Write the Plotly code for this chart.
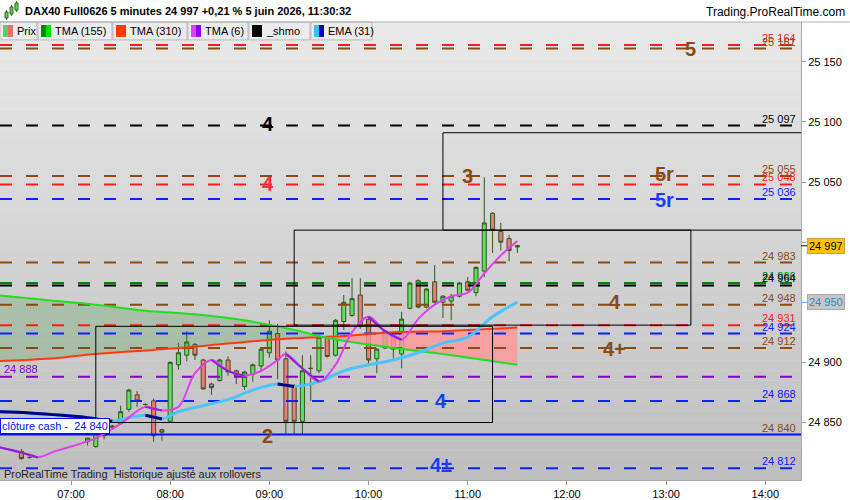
import plotly.graph_objects as go

DAY = "2026-06-05 "
X_LO = DAY + "06:17:03"
X_HI = DAY + "14:21:36"

# 5 minute candles (DAX40 Full0626)
candle_times = ["06:30", "06:35", "07:10", "07:15", "07:20", "07:25", "07:30", "07:35", "07:40", "07:45",
                "07:50", "07:55", "08:00", "08:05", "08:10", "08:15", "08:20", "08:25", "08:30", "08:35",
                "08:40", "08:45", "08:50", "08:55", "09:00", "09:05", "09:10", "09:15", "09:20", "09:25",
                "09:30", "09:35", "09:40", "09:45", "09:50", "09:55", "10:00", "10:05", "10:10", "10:15",
                "10:20", "10:25", "10:30", "10:35", "10:40", "10:45", "10:50", "10:55", "11:00", "11:05",
                "11:10", "11:15", "11:20", "11:25", "11:30"]
opens = [24826, 24821, 24834, 24830, 24839, 24846, 24849, 24861, 24873, 24865,
         24868, 24844, 24851, 24898, 24906, 24915, 24902, 24882, 24885, 24902,
         24893, 24880, 24890, 24897, 24908, 24924, 24903, 24880, 24851, 24895,
         24893, 24921, 24906, 24934, 24939, 24956, 24936, 24903, 24912, 24921,
         24907, 24945, 24968, 24946, 24967, 24950, 24951, 24955, 24967, 24958,
         24976, 25024, 25009, 25003, 24996]
highs = [24828, 24822, 24837, 24842, 24846, 24848, 24864, 24878, 24876, 24866,
         24870, 24845, 24901, 24916, 24926, 24916, 24903, 24883, 24903, 24905,
         24894, 24893, 24899, 24912, 24935, 24932, 24909, 24882, 24906, 24906,
         24922, 24922, 24936, 24956, 24970, 24970, 24937, 24912, 24927, 24922,
         24942, 24967, 24969, 24962, 24981, 24956, 24957, 24967, 24971, 24980,
         25054, 25025, 25016, 25006, 24998]
lows = [24819, 24820, 24831, 24829, 24836, 24844, 24848, 24859, 24863, 24864,
        24834, 24835, 24850, 24894, 24901, 24902, 24877, 24873, 24884, 24889,
        24882, 24877, 24884, 24892, 24904, 24886, 24840, 24840, 24840, 24868,
        24891, 24904, 24905, 24927, 24938, 24928, 24898, 24891, 24911, 24903,
        24895, 24944, 24945, 24945, 24949, 24937, 24935, 24954, 24959, 24955,
        24971, 24991, 24993, 24984, 24991]
closes = [24820, 24821, 24837, 24841, 24844, 24847, 24859, 24877, 24868, 24865,
          24839, 24842, 24900, 24908, 24917, 24906, 24878, 24879, 24902, 24892,
          24889, 24892, 24898, 24911, 24926, 24902, 24851, 24851, 24893, 24895,
          24921, 24905, 24935, 24950, 24953, 24930, 24902, 24911, 24926, 24911,
          24936, 24966, 24946, 24961, 24950, 24955, 24955, 24966, 24960, 24979,
          25016, 25010, 25000, 24993, 24997]

# moving averages
tma_times = ["06:15", "06:45", "07:15", "07:45", "08:15", "08:45", "09:15", "09:30",
             "09:45", "10:15", "10:45", "11:15", "11:30"]
tma155 = [24956, 24952, 24948, 24943, 24940, 24935, 24927, 24922, 24918, 24912, 24907, 24901, 24898]
tma310 = [24901, 24903, 24907, 24910, 24913, 24917, 24920, 24921, 24922, 24925, 24926, 24928, 24929]

ema_times = ["06:15", "06:35", "06:55", "07:10", "07:25", "07:35", "07:45", "07:55", "08:05", "08:20",
             "08:35", "08:50", "09:05", "09:15", "09:30", "09:45", "10:00", "10:15", "10:30", "10:45",
             "11:00", "11:15", "11:30"]
ema31 = [24859, 24858, 24856, 24854, 24851, 24854, 24856, 24853, 24859, 24864,
         24869, 24877, 24882, 24880, 24884, 24893, 24898, 24902, 24908, 24916,
         24921, 24938, 24950]

tma6_times = ["06:15", "06:30", "06:40", "06:50", "07:00", "07:15", "07:30", "07:45", "07:55", "08:05",
              "08:15", "08:25", "08:35", "08:45", "08:55", "09:05", "09:10", "09:20", "09:30", "09:40",
              "09:50", "10:00", "10:10", "10:20", "10:30", "10:40", "10:50", "11:00", "11:10", "11:20",
              "11:30"]
tma6 = [24830, 24825, 24821, 24826, 24830, 24837, 24849, 24863, 24860, 24863,
        24891, 24902, 24893, 24889, 24893, 24902, 24907, 24895, 24884, 24898,
        24925, 24938, 24926, 24919, 24936, 24948, 24955, 24958, 24974, 24989,
        25001]

# horizontal levels
level_values = [25164, 25161, 25097, 25055, 25048, 25036, 24983, 24966, 24964, 24948,
                24931, 24924, 24912, 24888, 24868, 24840, 24812]
level_kinds = ["red", "brown", "black", "brown", "red", "blue", "brown", "green", "black", "brown",
               "red", "blue", "brown", "purple", "blue", "cash", "blue"]

# zone rectangles
box_start = ["07:15", "09:15", "10:45"]
box_end = ["11:15", "13:15", "15:00"]
box_low = [24850, 24931, 25010]
box_high = [24930, 25010, 25091]

# big zone labels
zone_text = ["5", "4", "4", "5r", "5r", "3", "4", "4+", "4", "2", "4\u00b1"]
zone_time = ["13:15", "08:59", "08:59", "12:59", "12:59", "11:00", "12:29", "12:29", "10:44", "08:59", "10:44"]
zone_value = [25161, 25098, 25048, 25057, 25035, 25055, 24950, 24911, 24868, 24839, 24815]
zone_kind = ["brown", "black", "red", "brown", "blue", "brown", "brown", "brown", "blue", "brown", "blue"]

y_ticks = [24850, 24900, 24950, 25000, 25050, 25100, 25150]

COL = {"red": "#ff1a1a", "brown": "#8b4a10", "black": "#000000", "blue": "#1020ff",
       "green": "#008000", "purple": "#8400c8", "cash": "#0010ff"}
ZONE_COL = {"red": "#ff3040", "brown": "#8b4a10", "black": "#000000", "blue": "#1a3cff"}
FONT = "Liberation Sans, Arial, sans-serif"


def fmt(v):
    return f"{v:,}".replace(",", " ")


def ts(lst):
    return [DAY + t for t in lst]


def falling_only(vals):
    out = []
    n = len(vals)
    for j in range(n):
        keep = (j > 0 and vals[j] < vals[j - 1]) or (j < n - 1 and vals[j + 1] < vals[j])
        out.append(vals[j] if keep else None)
    return out


def px_x(p):
    return p / 801.0


def px_y(p):
    return (482.0 - p) / 460.0


fig = go.Figure()

# fill between the two long TMAs (green above, pink once red is on top)
k = tma_times.index("09:30")
fig.add_trace(go.Scatter(x=ts(tma_times[:k + 1]), y=tma310[:k + 1], mode="lines",
                         line=dict(width=0, shape="spline"), hoverinfo="skip"))
fig.add_trace(go.Scatter(x=ts(tma_times[:k + 1]), y=tma155[:k + 1], mode="lines", fill="tonexty",
                         fillcolor="rgba(40,140,40,0.22)", line=dict(width=0, shape="spline"), hoverinfo="skip"))
fig.add_trace(go.Scatter(x=ts(tma_times[k:]), y=tma155[k:], mode="lines",
                         line=dict(width=0, shape="spline"), hoverinfo="skip"))
fig.add_trace(go.Scatter(x=ts(tma_times[k:]), y=tma310[k:], mode="lines", fill="tonexty",
                         fillcolor="rgba(255,150,150,0.8)", line=dict(width=0, shape="spline"), hoverinfo="skip"))

# level lines
for v, kind in zip(level_values, level_kinds):
    fig.add_trace(go.Scatter(x=[X_LO, X_HI], y=[v, v], mode="lines", hoverinfo="skip",
                             line=dict(color=COL[kind], width=2,
                                       dash="solid" if kind == "cash" else "12px,14px")))

fig.add_trace(go.Candlestick(x=ts(candle_times), open=opens, high=highs, low=lows, close=closes,
                             increasing=dict(line=dict(color="#2e5a1c", width=1), fillcolor="#62dc62"),
                             decreasing=dict(line=dict(color="#3c5220", width=1), fillcolor="#ee7a7a"),
                             whiskerwidth=0, name="Prix"))

fig.add_trace(go.Scatter(x=ts(tma_times), y=tma310, mode="lines", name="TMA (310)",
                         line=dict(color="#ff3a10", width=2, shape="spline")))
fig.add_trace(go.Scatter(x=ts(tma_times), y=tma155, mode="lines", name="TMA (155)",
                         line=dict(color="#22dd22", width=2, shape="spline")))

fig.add_trace(go.Scatter(x=ts(ema_times), y=ema31, mode="lines", name="EMA (31)",
                         line=dict(color="#4cc4ff", width=3, shape="spline")))
fig.add_trace(go.Scatter(x=ts(ema_times), y=falling_only(ema31), mode="lines",
                         line=dict(color="#000080", width=3, shape="spline"), hoverinfo="skip"))

fig.add_trace(go.Scatter(x=ts(tma6_times), y=tma6, mode="lines", name="TMA (6)",
                         line=dict(color="#e040f0", width=2, shape="spline")))
fig.add_trace(go.Scatter(x=ts(tma6_times), y=falling_only(tma6), mode="lines",
                         line=dict(color="#8a22d8", width=2, shape="spline"), hoverinfo="skip"))

shapes = []
# plot background gradient
n = 46
for i in range(n):
    c = int(233 - 42 * i / (n - 1))
    shapes.append(dict(type="rect", xref="paper", yref="paper", x0=0, x1=1,
                       y0=1 - (i + 1) / n, y1=1 - i / n, fillcolor=f"rgb({c},{c},{c})",
                       line_width=0, layer="below"))

for s, e, lo, hi in zip(box_start, box_end, box_low, box_high):
    shapes.append(dict(type="rect", x0=DAY + s, x1=DAY + e, y0=lo, y1=hi,
                       line=dict(color="black", width=1), layer="above"))

# legend strip
legend_items = [("Prix", 0, 37, "#5fcf5f", "#e36f6f"), ("TMA (155)", 38, 112, "#008a00", "#00e000"),
                ("TMA (310)", 113, 187, "#ff3a10", "#ff3a10"), ("TMA (6)", 188, 248, "#e040f0", "#8a00ff"),
                ("_shmo", 249, 310, "#000000", "#000000"), ("EMA (31)", 311, 372, "#44bbff", "#0000b0")]
annotations = []
for name, a, b, c1, c2 in legend_items:
    shapes.append(dict(type="rect", xref="paper", yref="paper", x0=px_x(a), x1=px_x(b),
                       y0=px_y(40), y1=px_y(22), fillcolor="#ececec",
                       line=dict(color="#b8b8b8", width=1)))
    shapes.append(dict(type="rect", xref="paper", yref="paper", x0=px_x(a + 3), x1=px_x(a + 8),
                       y0=px_y(37), y1=px_y(25), fillcolor=c1, line_width=0))
    shapes.append(dict(type="rect", xref="paper", yref="paper", x0=px_x(a + 8), x1=px_x(a + 13),
                       y0=px_y(37), y1=px_y(25), fillcolor=c2, line_width=0))
    annotations.append(dict(xref="paper", yref="paper", x=px_x(a + 15), y=px_y(31), xanchor="left",
                            yanchor="middle", showarrow=False, text=name,
                            font=dict(family=FONT, size=11, color="#000")))

# header line and little candle icon
shapes.append(dict(type="line", xref="paper", yref="paper", x0=0, x1=850 / 801, y0=1, y1=1,
                   line=dict(color="#b0b0b0", width=1)))
for a, top, bot in [(5, 12, 18), (10, 7, 14), (15, 3, 10)]:
    shapes.append(dict(type="line", xref="paper", yref="paper", x0=px_x(a + 1.5), x1=px_x(a + 1.5),
                       y0=px_y(bot + 2), y1=px_y(top - 2), line=dict(color="#2e6a1c", width=1)))
    shapes.append(dict(type="rect", xref="paper", yref="paper", x0=px_x(a), x1=px_x(a + 3),
                       y0=px_y(bot), y1=px_y(top), fillcolor="#5fcf5f", line=dict(color="#2e6a1c", width=1)))

annotations.append(dict(xref="paper", yref="paper", x=px_x(23), y=px_y(11), xanchor="left", yanchor="middle",
                        showarrow=False, font=dict(family=FONT, size=11, color="#000"),
                        text="<b>DAX40 Full0626 5 minutes " + fmt(closes[-1]) +
                             " +0,21 % 5 juin 2026, 11:30:32</b>"))
annotations.append(dict(xref="paper", yref="paper", x=px_x(847), y=px_y(12), xanchor="right", yanchor="middle",
                        showarrow=False, font=dict(family=FONT, size=12, color="#000"),
                        text="Trading.ProRealTime.com"))

# right-hand level values
for v, kind in zip(level_values, level_kinds):
    if kind == "purple":
        annotations.append(dict(xref="paper", x=px_x(2), xanchor="left", y=v, yanchor="bottom",
                                yshift=0, showarrow=False, text=fmt(v),
                                font=dict(family=FONT, size=11, color=COL[kind])))
        continue
    color = COL["brown"] if kind == "cash" else COL[kind]
    annotations.append(dict(xref="paper", x=px_x(798), xanchor="right", y=v, yanchor="bottom",
                            yshift=-1, showarrow=False, text=fmt(v),
                            font=dict(family=FONT, size=11, color=color)))

for t, tm, v, kind in zip(zone_text, zone_time, zone_value, zone_kind):
    annotations.append(dict(x=DAY + tm, y=v, xanchor="center", yanchor="middle", showarrow=False,
                            text="<b>" + t + "</b>", font=dict(family=FONT, size=20, color=ZONE_COL[kind])))

annotations.append(dict(xref="paper", x=0, xanchor="left", y=level_values[-2], yanchor="bottom", yshift=1,
                        showarrow=False, text="cl\u00f4ture cash -  " + fmt(level_values[-2]),
                        bgcolor="#ffffff", bordercolor="#0010ff", borderwidth=1, borderpad=1,
                        font=dict(family=FONT, size=11, color="#0010ff")))
annotations.append(dict(xref="paper", yref="paper", x=px_x(2), y=px_y(476), xanchor="left", yanchor="middle",
                        showarrow=False, text="ProRealTime Trading  Historique ajust\u00e9 aux rollovers",
                        font=dict(family=FONT, size=11, color="#222")))

# price tags on the axis
shapes.append(dict(type="line", xref="paper", x0=1, x1=px_x(808), y0=closes[-1], y1=closes[-1],
                   line=dict(color="#000", width=1)))
shapes.append(dict(type="line", xref="paper", x0=1, x1=px_x(808), y0=ema31[-1], y1=ema31[-1],
                   line=dict(color="#4cc4ff", width=1)))
annotations.append(dict(xref="paper", x=px_x(807), xanchor="left", y=closes[-1], yanchor="middle",
                        showarrow=False, text=fmt(closes[-1]), bgcolor="#ffc400", bordercolor="#d0a030",
                        borderwidth=1, borderpad=1, font=dict(family=FONT, size=11, color="#000")))
annotations.append(dict(xref="paper", x=px_x(807), xanchor="left", y=ema31[-1], yanchor="middle",
                        showarrow=False, text=fmt(ema31[-1]), bgcolor="#c6c6c6", bordercolor="#a8a8a8",
                        borderwidth=1, borderpad=1, font=dict(family=FONT, size=11, color="#2a8ccc")))

fig.update_layout(width=850, height=500, margin=dict(l=0, r=49, t=22, b=18),
                  paper_bgcolor="white", plot_bgcolor="#d8d8d8", showlegend=False,
                  shapes=shapes, annotations=annotations, font=dict(family=FONT, size=11),
                  xaxis=dict(type="date", range=[X_LO, X_HI], rangeslider=dict(visible=False),
                             showgrid=False, zeroline=False, showline=True, linecolor="#a8a8a8",
                             ticks="outside", ticklen=4, tickcolor="#999", tickformat="%H:%M",
                             dtick=3600000, tick0=DAY + "07:00", tickfont=dict(size=11, color="#000")),
                  yaxis=dict(side="right", range=[24802.2, 25183.1], showgrid=False, zeroline=False,
                             showline=True, linecolor="#a8a8a8", ticks="outside", ticklen=4,
                             tickcolor="#999", tickvals=y_ticks, ticktext=[fmt(v) for v in y_ticks],
                             tickfont=dict(size=11, color="#000")))

# page body has a default margin; drop it so the figure sits flush in the window
fig.write_html("out.html", config={"displayModeBar": False},
               post_script="document.body.style.margin='0';")
